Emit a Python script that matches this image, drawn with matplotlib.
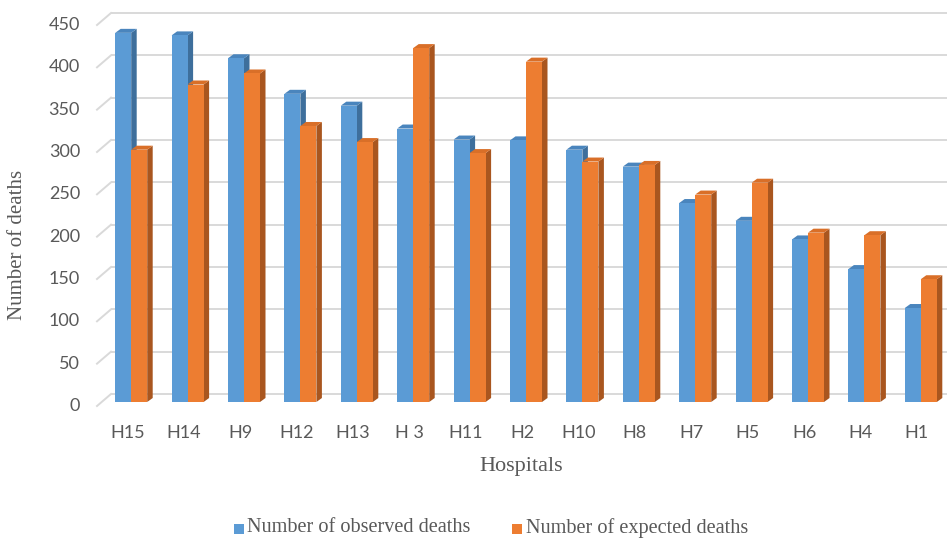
import matplotlib
matplotlib.use("Agg")
import matplotlib.pyplot as plt
from matplotlib.patches import Polygon, Rectangle

hospitals = ["H15", "H14", "H9", "H12", "H13", "H 3", "H11", "H2", "H10",
             "H8", "H7", "H5", "H6", "H4", "H1"]
observed = [436, 433, 406, 364, 350, 323, 310, 309, 298, 278, 235, 214, 192, 157, 111]
expected = [298, 375, 388, 326, 307, 418, 294, 402, 284, 280, 245, 259, 200, 197, 145]
yticks = [0, 50, 100, 150, 200, 250, 300, 350, 400, 450]

W, H = 947, 541
PXX = 56.4            # pixels per category
PXY = 381 / 450.0     # pixels per death

blue, blue_side, blue_top = "#5b9bd5", "#3e6f9c", "#4a85bd"
orange, orange_side, orange_top = "#ed7d31", "#a9561f", "#d96f28"
grid_c = "#d9d9d9"
txt_c = "#595959"

fig = plt.figure(figsize=(W / 100, H / 100), dpi=100)
ax = fig.add_axes([103 / W, (H - 402) / H, (W - 103) / W, 381 / H])
ax.set_xlim(-0.5, -0.5 + (W - 103) / PXX)
ax.set_ylim(0, 450)
ax.axis("off")


def px2x(xp):
    return -0.5 + (xp - 103) / PXX


# depth offsets (bar plane -> back wall / front plane)
back_dy = 8 / PXY
front_dy = -4 / PXY
bdx, bdy = 5.5 / PXX, 4 / PXY   # bar depth
bw = 16 / PXX

# back wall gridlines + diagonals
for v in yticks:
    ax.plot([px2x(111), px2x(W + 5)], [v + back_dy] * 2, color=grid_c, lw=1.4,
            zorder=1, clip_on=False, solid_capstyle="butt")
    ax.plot([px2x(97), px2x(111)], [v + front_dy, v + back_dy], color=grid_c,
            lw=1.4, zorder=1, clip_on=False)
    ax.text(px2x(80), v + front_dy, str(v), ha="right", va="center",
            fontsize=13, color=txt_c, family="Lato")


def bar3d(x0, h, front, side, top):
    x1 = x0 + bw
    ax.add_patch(Polygon([(x1, 0), (x1 + bdx, bdy), (x1 + bdx, h + bdy), (x1, h)],
                         closed=True, fc=side, ec="none", zorder=2, clip_on=False))
    ax.add_patch(Polygon([(x0, h), (x0 + bdx, h + bdy), (x1 + bdx, h + bdy), (x1, h)],
                         closed=True, fc=top, ec="none", zorder=2, clip_on=False))
    ax.add_patch(Rectangle((x0, 0), bw, h, fc=front, ec="none", zorder=3,
                           clip_on=False))


for i, name in enumerate(hospitals):
    bar3d(i - bw, observed[i], blue, blue_side, blue_top)
    bar3d(i, expected[i], orange, orange_side, orange_top)
    ax.text(i - 4 / PXX, -31 / PXY, name, ha="center", va="center",
            fontsize=13, color=txt_c, family="Lato")

fig.text(521 / W, 1 - 466 / H, "Hospitals", ha="center", va="center",
         fontsize=16, color=txt_c, family="Liberation Serif")
fig.text(18 / W, 1 - 245 / H, "Number of deaths", ha="center", va="center",
         rotation=90, fontsize=15, color=txt_c, family="Liberation Serif")

# legend
for sx, tx, col, lab in [(234, 247, blue, "Number of observed deaths"),
                         (512, 526, orange, "Number of expected deaths")]:
    fig.patches.append(Rectangle((sx / W, 1 - 534 / H), 10 / W, 10 / H,
                                 transform=fig.transFigure, fc=col, ec="none"))
    fig.text(tx / W, 1 - 528 / H, lab, ha="left", va="center",
             fontsize=14.6, color=txt_c, family="Liberation Serif")

fig.savefig("out.png", dpi=100, facecolor="white")
